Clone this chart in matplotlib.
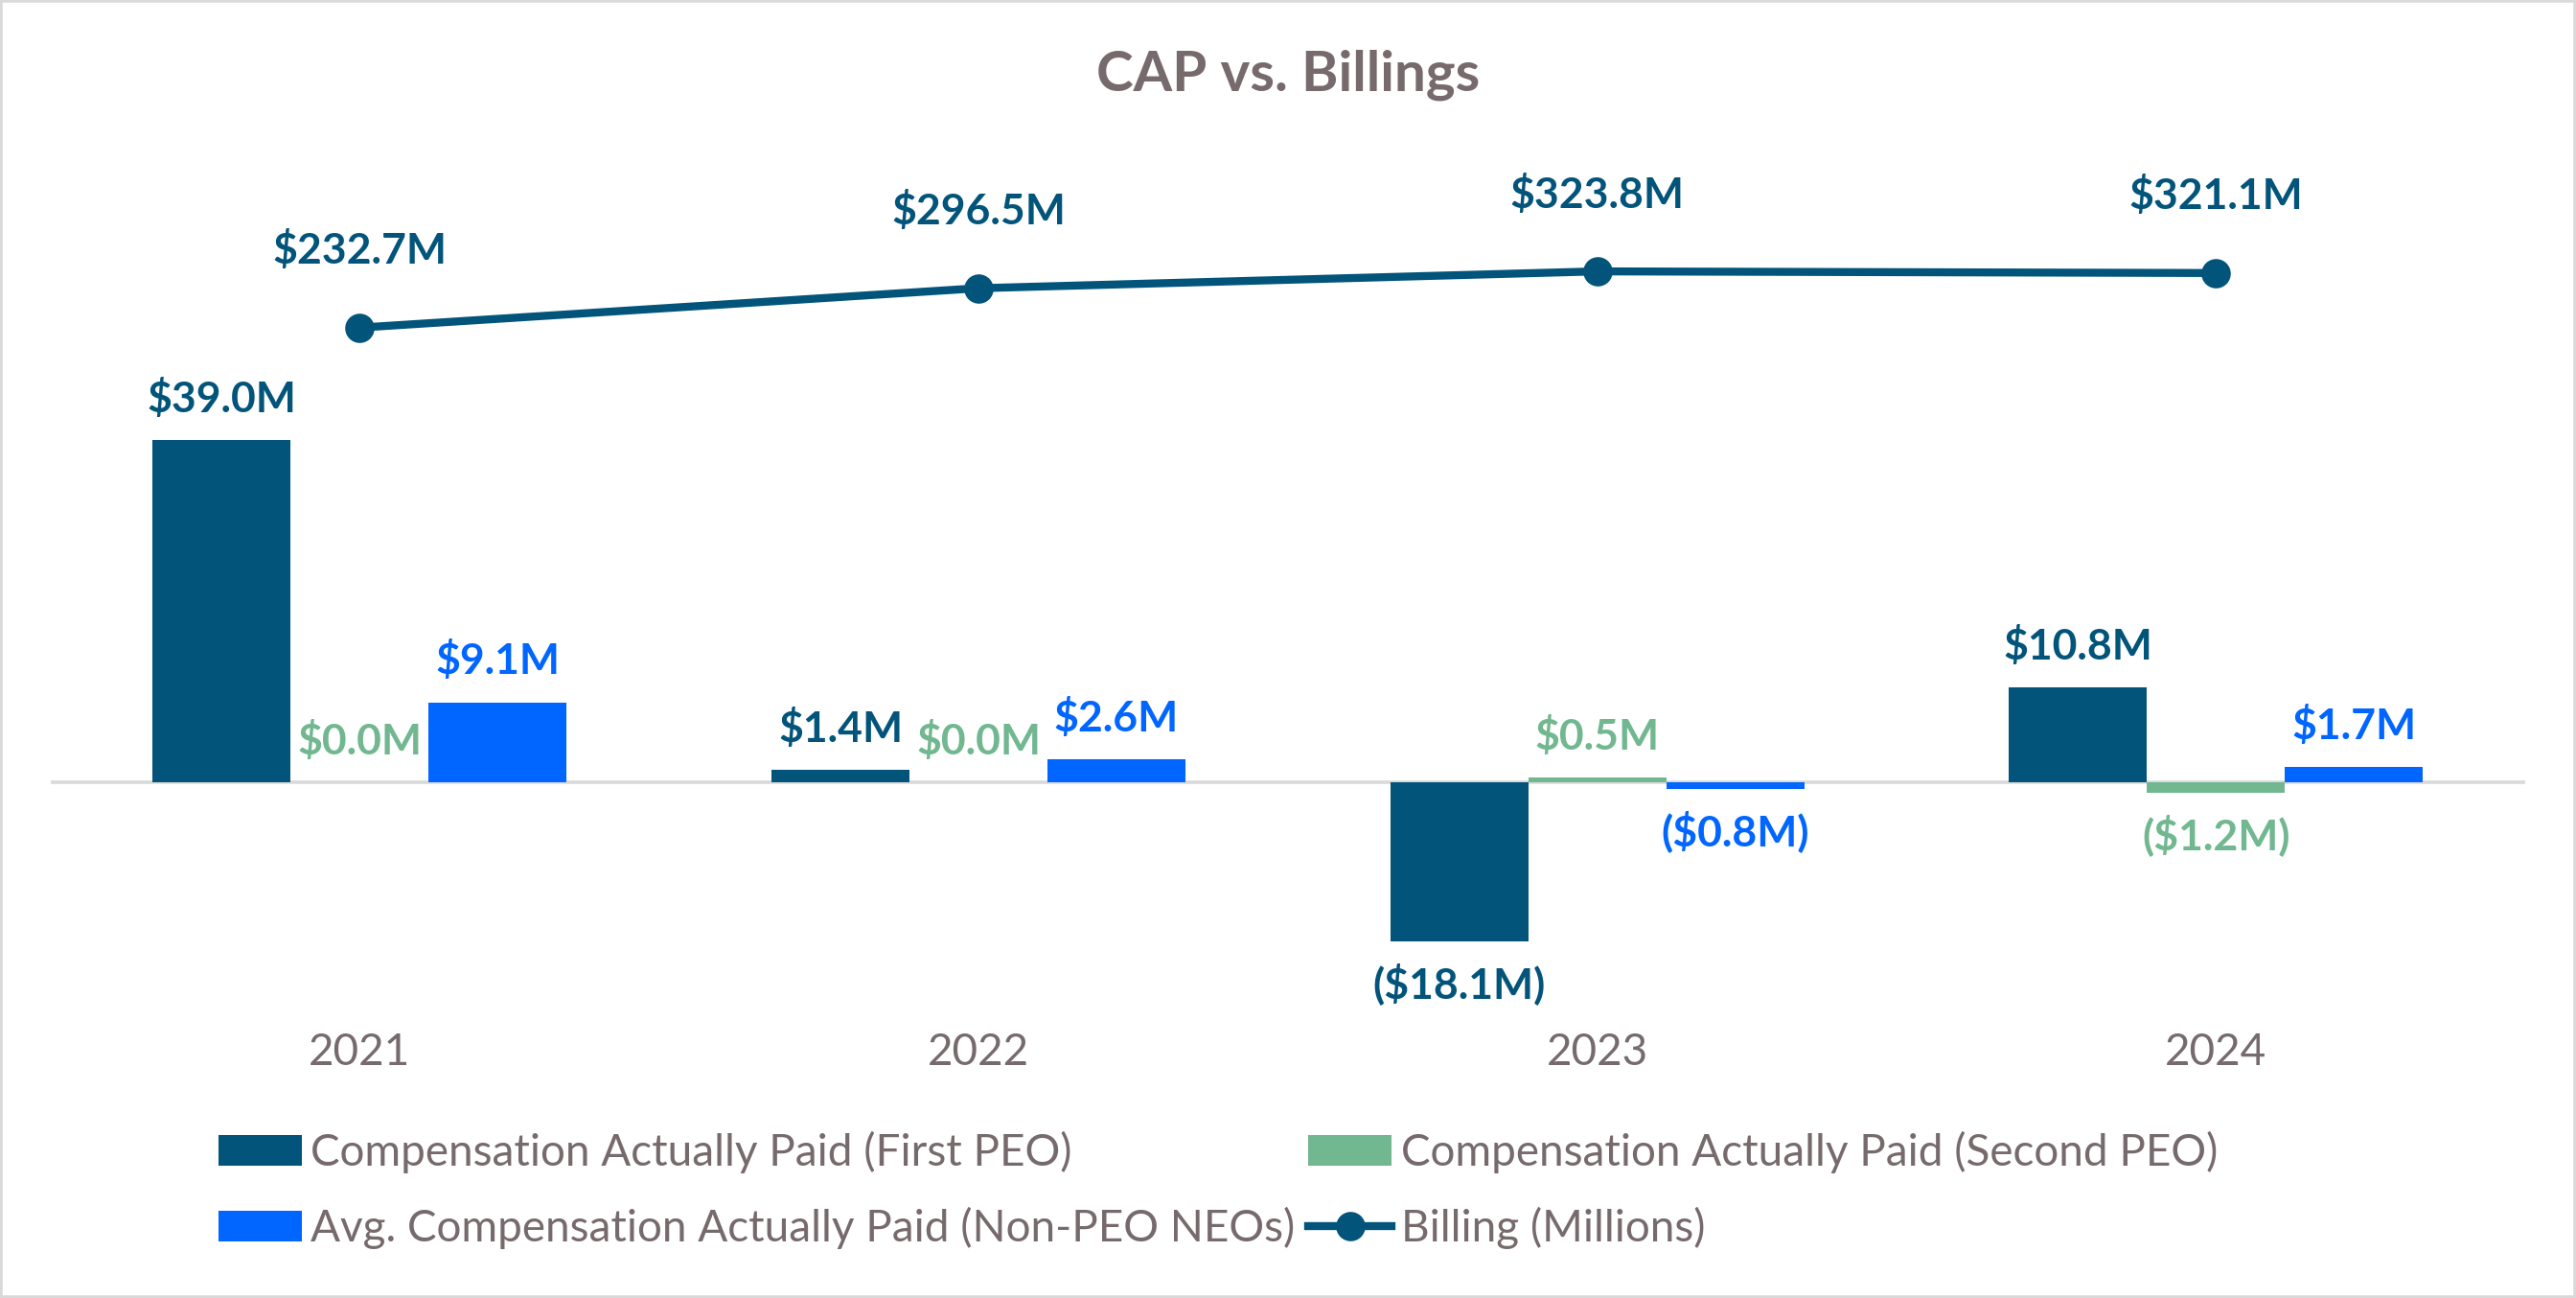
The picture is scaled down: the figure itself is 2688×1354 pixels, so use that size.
import numpy as np
import matplotlib.pyplot as plt
from matplotlib.patches import Rectangle

years = ['2021', '2022', '2023', '2024']
cap_first_peo = [39.0, 1.4, -18.1, 10.8]
cap_second_peo = [0.0, 0.0, 0.5, -1.2]
cap_non_peo = [9.1, 2.6, -0.8, 1.7]
billing = [232.7, 296.5, 323.8, 321.1]

navy = '#02547A'
green = '#71B78F'
blue = '#0066FF'
gray_txt = '#766A6C'

plt.rcParams['font.family'] = ['Lato', 'DejaVu Sans']

W, H = 2688, 1354
fig = plt.figure(figsize=(W / 200, H / 200), dpi=200)
fig.patch.set_facecolor('white')

# plot area placed in pixel terms of the reference
left, right, top, bottom = 52.6, 2635, 130, 1060
ax = fig.add_axes([left / W, 1 - bottom / H, (right - left) / W, (bottom - top) / H])
ax2 = ax.twinx()

x = np.arange(len(years))
w = 0.223

def money(v):
    return f'${v:.1f}M' if v >= 0 else f'(${-v:.1f}M)'

b1 = ax.bar(x - w, cap_first_peo, w, color=navy, zorder=3,
            label='Compensation Actually Paid (First PEO)')
b2 = ax.bar(x, cap_second_peo, w, color=green, zorder=3,
            label='Compensation Actually Paid (Second PEO)')
b3 = ax.bar(x + w, cap_non_peo, w, color=blue, zorder=3,
            label='Avg. Compensation Actually Paid (Non-PEO NEOs)')

for bars, vals, col in [(b1, cap_first_peo, navy), (b2, cap_second_peo, green), (b3, cap_non_peo, blue)]:
    ax.bar_label(bars, labels=[money(v) for v in vals], padding=8, color=col,
                 fontsize=16, fontweight='bold')

ax.axhline(0, color='#D9D9D9', lw=1.3, zorder=2)
ax.set_xlim(-0.5, 3.5)
ax.set_ylim(-26.67, 74.97)
ax.set_xticks(x, years)
ax.tick_params(axis='x', length=0, pad=6, labelsize=16.5, labelcolor=gray_txt)
ax.set_yticks([])

ln, = ax2.plot(x, billing, color=navy, lw=3, marker='o', markersize=10,
               label='Billing (Millions)', zorder=4)
for xi, v in zip(x, billing):
    ax2.annotate(f'${v:.1f}M', (xi, v), xytext=(0, 29), textcoords='offset points',
                 ha='center', va='center', color=navy, fontsize=16, fontweight='bold')
ax2.set_ylim(-882.6, 561.5)
ax2.set_yticks([])

for a in (ax, ax2):
    for s in a.spines.values():
        s.set_visible(False)

fig.text(0.5, 1 - 78 / H, 'CAP vs. Billings', ha='center', va='center',
         fontsize=21, fontweight='bold', color=gray_txt)

handles = [b1, b3, b2, ln]
labels = [h.get_label() for h in handles]
fig.legend(handles, labels, ncol=2, loc='upper left',
           bbox_to_anchor=(228 / W, 1 - 1180 / H), frameon=False, borderpad=0,
           borderaxespad=0, fontsize=16.5, labelcolor=gray_txt, handlelength=1.9,
           handletextpad=0.2, columnspacing=0.3, labelspacing=0.75)

fig.patches.append(Rectangle((0, 0), 1, 1, transform=fig.transFigure, fill=False,
                             edgecolor='#D9D9D9', lw=2))

fig.savefig('out.png', dpi=200)
